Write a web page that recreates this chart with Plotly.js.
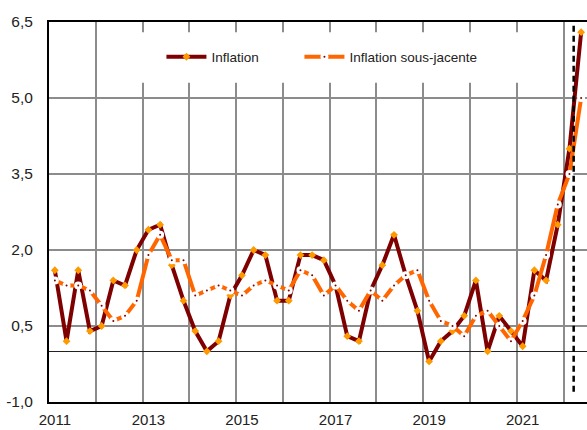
<!DOCTYPE html>
<html>
<head>
<meta charset="utf-8">
<script src="https://cdn.plot.ly/plotly-3.0.1.min.js"></script>
<style>
  html, body { margin: 0; padding: 0; background: #ffffff; }
  #chart { width: 587px; height: 430px; }
</style>
</head>
<body>
<div id="chart"></div>
<script>
// Quarterly categories (2011 T1 .. 2022 T2)
var quarters = [
  '2011T1','2011T2','2011T3','2011T4',
  '2012T1','2012T2','2012T3','2012T4',
  '2013T1','2013T2','2013T3','2013T4',
  '2014T1','2014T2','2014T3','2014T4',
  '2015T1','2015T2','2015T3','2015T4',
  '2016T1','2016T2','2016T3','2016T4',
  '2017T1','2017T2','2017T3','2017T4',
  '2018T1','2018T2','2018T3','2018T4',
  '2019T1','2019T2','2019T3','2019T4',
  '2020T1','2020T2','2020T3','2020T4',
  '2021T1','2021T2','2021T3','2021T4',
  '2022T1','2022T2'
];

// Inflation (%)
var inflation = [
  1.6, 0.2, 1.6, 0.4,
  0.5, 1.4, 1.3, 2.0,
  2.4, 2.5, 1.7, 1.0,
  0.4, 0.0, 0.2, 1.1,
  1.5, 2.0, 1.9, 1.0,
  1.0, 1.9, 1.9, 1.8,
  1.3, 0.3, 0.2, 1.2,
  1.7, 2.3, 1.5, 0.8,
  -0.2, 0.2, 0.4, 0.7,
  1.4, 0.0, 0.7, 0.4,
  0.1, 1.6, 1.4, 2.5,
  4.0, 6.3
];

// Inflation sous-jacente (%)
var inflationSousJacente = [
  1.4, 1.3, 1.3, 1.2,
  0.9, 0.6, 0.7, 1.0,
  1.9, 2.3, 1.8, 1.8,
  1.1, 1.2, 1.3, 1.2,
  1.1, 1.3, 1.4, 1.3,
  1.2, 1.6, 1.5, 1.1,
  1.3, 1.0, 0.8, 1.2,
  1.0, 1.3, 1.5, 1.6,
  1.0, 0.6, 0.5, 0.3,
  0.7, 0.8, 0.5, 0.2,
  0.6, 1.1, 1.9, 2.9,
  3.5, 5.0
];

// Axis labels
var yearLabels = ['2011', '2013', '2015', '2017', '2019', '2021'];
var yTickValues = [-1, 0.5, 2, 3.5, 5, 6.5];
var yTickLabels = ['-1,0', '0,5', '2,0', '3,5', '5,0', '6,5'];
var seriesNames = ['Inflation', 'Inflation sous-jacente'];

// positions along the axis
var xPos = quarters.map(function (q, i) { return i; });
var yearTickPos = yearLabels.map(function (y) { return quarters.indexOf(y + 'T1'); });
var yearBoundaries = [];
quarters.forEach(function (q, i) { if (i > 0 && q.slice(4) === 'T1') yearBoundaries.push(i - 0.5); });

var FONT = 'Arial, "Liberation Sans", sans-serif';
var legendFont = { family: FONT, size: 13.5, color: '#222222' };

var traces = [
  {
    x: xPos, y: inflation, name: seriesNames[0], legend: 'legend',
    type: 'scatter', mode: 'lines+markers',
    line: { color: '#7f0000', width: 4 },
    marker: { symbol: 'diamond', size: 6, color: '#ff9900', line: { width: 0 } }
  },
  {
    x: xPos, y: inflationSousJacente, name: seriesNames[1], legend: 'legend2',
    type: 'scatter', mode: 'lines+markers',
    line: { color: '#ff6600', width: 4 },
    marker: { symbol: 'circle', size: 5, color: '#7f0000', line: { color: '#ffffff', width: 3 } }
  }
];

var layout = {
  width: 587, height: 430,
  margin: { l: 49, r: 0, t: 22, b: 28, pad: 0 },
  paper_bgcolor: '#ffffff', plot_bgcolor: '#ffffff',
  showlegend: true,
  legend: {
    orientation: 'h',
    x: 0.209, xanchor: 'left',
    y: 0.908, yanchor: 'middle',
    bgcolor: 'rgba(0,0,0,0)',
    font: legendFont,
    itemwidth: 40
  },
  legend2: {
    orientation: 'h',
    x: 0.4655, xanchor: 'left',
    y: 0.908, yanchor: 'middle',
    bgcolor: 'rgba(0,0,0,0)',
    font: legendFont,
    itemwidth: 40
  },
  xaxis: {
    range: [-0.5, quarters.length - 0.5],
    tickmode: 'array', tickvals: yearTickPos, ticktext: yearLabels,
    showgrid: false, zeroline: false,
    showline: true, linecolor: '#000000', linewidth: 2, mirror: true,
    ticks: '', ticklabelstandoff: 3,
    tickfont: { family: FONT, size: 15, color: '#222222' },
    minor: {
      tickmode: 'array', tickvals: yearBoundaries,
      showgrid: true, gridcolor: '#8c8c8c', gridwidth: 2, ticks: ''
    },
    fixedrange: true
  },
  yaxis: {
    range: [-1, 6.5],
    tickmode: 'array', tickvals: yTickValues, ticktext: yTickLabels,
    showgrid: true, gridcolor: '#8c8c8c', gridwidth: 2,
    zeroline: true, zerolinecolor: '#222222', zerolinewidth: 1.5,
    showline: true, linecolor: '#000000', linewidth: 2,
    ticks: '', ticklabelstandoff: 11,
    tickfont: { family: FONT, size: 15.5, color: '#222222' },
    fixedrange: true
  },
  shapes: [
    {
      type: 'rect', xref: 'x', yref: 'y', layer: 'above',
      x0: 5.8, x1: 39.6, y0: 5.3, y1: 6.3,
      fillcolor: '#ffffff', line: { width: 0 }
    },
    {
      type: 'line', xref: 'x', yref: 'y', layer: 'above',
      x0: 44.36, x1: 44.36, y0: -0.8, y1: 6.5,
      line: { color: '#000000', width: 2.5, dash: '6px,4px' }
    }
  ]
};

Plotly.newPlot('chart', traces, layout, { displayModeBar: false, staticPlot: true });
</script>
</body>
</html>
